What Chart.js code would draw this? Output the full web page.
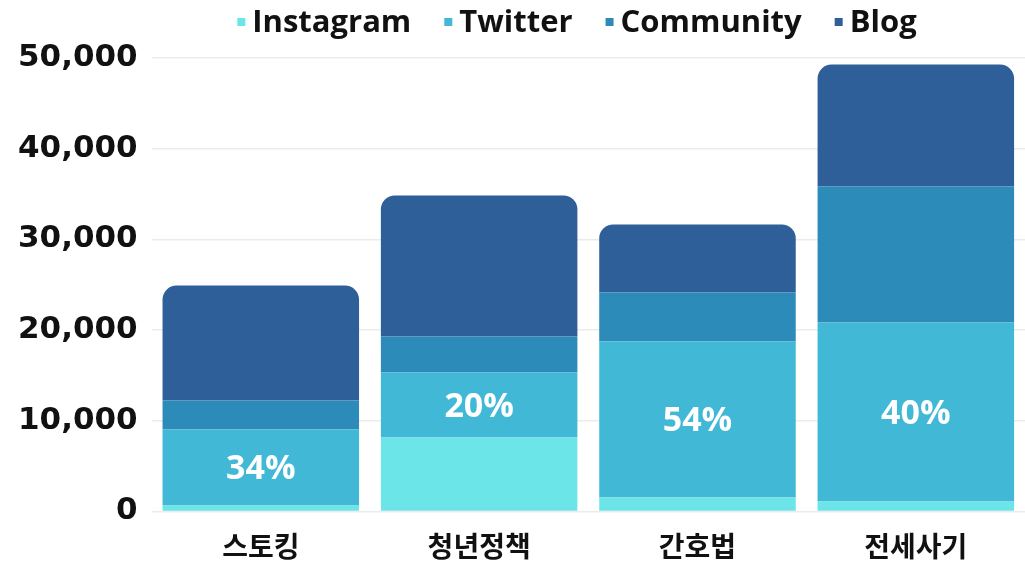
<!DOCTYPE html>
<html>
<head>
<meta charset="utf-8">
<script src="https://cdn.jsdelivr.net/npm/chart.js@4"></script>
<style>
  html, body { margin: 0; padding: 0; background: #ffffff; }
  #wrap { width: 1025px; height: 563px; position: relative; }
</style>
</head>
<body>
<div id="wrap"><canvas id="issueChart"></canvas></div>
<script>
// 카테고리 및 채널별 언급량
const categories = ['스토킹', '청년정책', '간호법', '전세사기'];
const instagram = [660, 8160, 1540, 1100];
const twitter = [8380, 7170, 17200, 19740];
const community = [3200, 3960, 5410, 14990];
const blog = [12660, 15550, 7490, 13450];
const twitterShare = ['34%', '20%', '54%', '40%'];
const yTicks = [0, 10000, 20000, 30000, 40000, 50000];

// 트위터 구간 위에 비율 표시
const shareLabels = {
    id: 'shareLabels',
    afterDatasetsDraw(chart) {
        const ctx = chart.ctx;
        const meta = chart.getDatasetMeta(1);
        ctx.save();
        ctx.fillStyle = '#ffffff';
        ctx.font = 'bold 34px "Open Sans", "Noto Sans", sans-serif';
        ctx.textAlign = 'center';
        ctx.textBaseline = 'middle';
        meta.data.forEach(function(bar, i) {
            const y = (bar.y + bar.base) / 2 + 2;
            ctx.fillText(twitterShare[i], bar.x, y);
        });
        ctx.restore();
    }
};

// 상단 범례 (작은 사각형 + 굵은 글씨, 간격 좁게)
const topLegend = {
    id: 'topLegend',
    afterDraw(chart) {
        const ctx = chart.ctx;
        const sets = chart.data.datasets;
        const box = 8, gap = 7, spacing = 33, centerX = 577, centerY = 22;
        ctx.save();
        ctx.font = 'bold 31px "Open Sans", sans-serif';
        ctx.textBaseline = 'middle';
        const widths = sets.map(ds => ctx.measureText(ds.label).width);
        let total = 0;
        widths.forEach((w, i) => { total += box + gap + w + (i < widths.length - 1 ? spacing : 0); });
        let x = centerX - total / 2;
        sets.forEach(function(ds, i) {
            ctx.fillStyle = ds.backgroundColor;
            ctx.fillRect(x, centerY - box / 2, box, box);
            ctx.fillStyle = '#111111';
            ctx.fillText(ds.label, x + box + gap, centerY + 1);
            x += box + gap + widths[i] + spacing;
        });
        ctx.restore();
    }
};

const ctx = document.getElementById('issueChart').getContext('2d');
const issueChart = new Chart(ctx, {
    type: 'bar',
    data: {
        labels: categories,
        datasets: [{
            label: 'Instagram',
            data: instagram,
            backgroundColor: '#6ce5e8'
        }, {
            label: 'Twitter',
            data: twitter,
            backgroundColor: '#41b8d5'
        }, {
            label: 'Community',
            data: community,
            backgroundColor: '#2d8bba'
        }, {
            label: 'Blog',
            data: blog,
            backgroundColor: '#2f5f98',
            borderRadius: { topLeft: 14, topRight: 14, bottomLeft: 0, bottomRight: 0 },
            borderSkipped: false
        }]
    },
    options: {
        responsive: true,
        maintainAspectRatio: false,
        animation: false,
        datasets: {
            bar: {
                categoryPercentage: 1,
                barPercentage: 0.9
            }
        },
        layout: {
            padding: { left: 4, right: -11, top: 58, bottom: -18 }
        },
        scales: {
            x: {
                stacked: true,
                grid: { display: false, drawTicks: false },
                border: { display: false },
                ticks: {
                    color: '#111111',
                    padding: 18,
                    font: { family: '"Noto Sans CJK KR", sans-serif', size: 28, weight: 'bold' }
                }
            },
            y: {
                stacked: true,
                min: 0,
                max: 50000,
                afterBuildTicks(axis) {
                    axis.ticks = yTicks.map(v => ({ value: v }));
                },
                grid: { color: '#ebebeb', lineWidth: 1.5, drawTicks: false },
                border: { display: false },
                ticks: {
                    color: '#111111',
                    padding: 14,
                    font: { family: '"DejaVu Sans", sans-serif', size: 31, weight: 'bold' },
                    callback: v => v.toLocaleString('en-US')
                }
            }
        },
        plugins: {
            legend: { display: false },
            tooltip: { enabled: false }
        }
    },
    plugins: [shareLabels, topLegend]
});
</script>
</body>
</html>
